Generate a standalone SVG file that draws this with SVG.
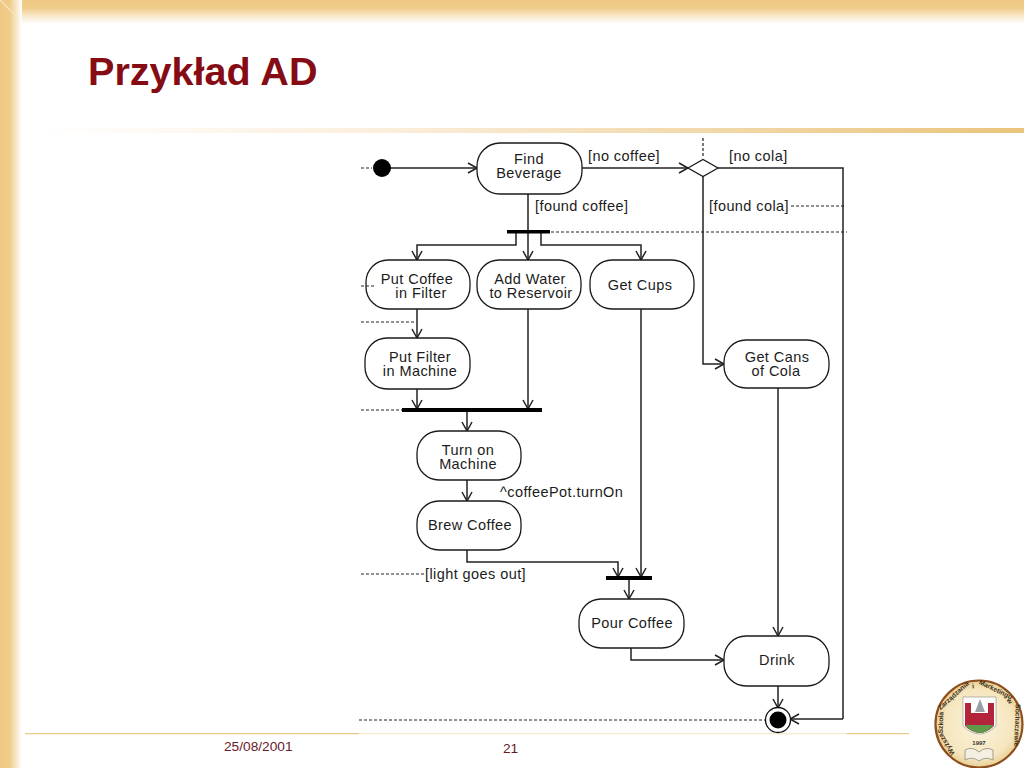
<svg xmlns="http://www.w3.org/2000/svg" width="1024" height="768" viewBox="0 0 1024 768">
<style>
.n{fill:#fff;stroke:#1a1a1a;stroke-width:1.3}
.t{font-family:"Liberation Sans",Arial,sans-serif;font-size:14.500px;letter-spacing:.42px;fill:#1c1c1c;text-anchor:middle}
.l{font-family:"Liberation Sans",Arial,sans-serif;font-size:14.500px;letter-spacing:.42px;fill:#1c1c1c}
.c{fill:none;stroke:#222;stroke-width:1.5}
.a{fill:none;stroke:#222;stroke-width:1.5;marker-end:url(#arr)}
.d{fill:none;stroke:#222;stroke-width:1.2;stroke-dasharray:3 2}
.b{fill:#000}
.s{font-family:"Liberation Sans",Arial,sans-serif;font-weight:bold;font-size:6.800px;fill:#3E3018;text-anchor:middle}
</style>
<defs>
<marker id="arr" markerUnits="userSpaceOnUse" markerWidth="14" markerHeight="14" refX="11" refY="7" orient="auto"><path d="M2 2L11 7L2 12" fill="none" stroke="#222" stroke-width="1.500"/></marker>
<linearGradient id="top" x1="0" y1="0" x2="0" y2="1"><stop offset="0" stop-color="#EFC883"/><stop offset=".33" stop-color="#F0CC8B"/><stop offset=".7" stop-color="#FAEBD0"/><stop offset="1" stop-color="#fff"/></linearGradient>
<linearGradient id="left" x1="0" y1="0" x2="1" y2="0"><stop offset="0" stop-color="#EFC883"/><stop offset=".45" stop-color="#F0CC8B"/><stop offset="1" stop-color="#fff"/></linearGradient>
<linearGradient id="rule" x1="0" y1="0" x2="1" y2="0"><stop offset="0" stop-color="#fff"/><stop offset=".35" stop-color="#FBEEDC"/><stop offset=".75" stop-color="#F0D4A0"/><stop offset="1" stop-color="#EAC47C"/></linearGradient>
<radialGradient id="seal"><stop offset="0" stop-color="#FBF3DC"/><stop offset=".8" stop-color="#F6E6BE"/><stop offset="1" stop-color="#E8CF96"/></radialGradient>
</defs>
<rect width="1024" height="768" fill="#fff"/>
<rect x="0" y="0" width="1024" height="24" fill="url(#top)"/>
<path d="M0 0H22V768H0Z" fill="url(#left)"/>
<path d="M0 0L14 14" stroke="#F7E2BC" stroke-width="1.500"/>
<rect x="40" y="128" width="984" height="5" fill="url(#rule)"/>
<rect x="25" y="733" width="884" height="1.300" fill="#E8C990"/>
<text x="88" y="85" font-family="Liberation Sans,Arial,sans-serif" font-weight="bold" font-size="39.600" fill="#850C14">Przykład AD</text>
<text x="224" y="751" font-family="Liberation Sans,Arial,sans-serif" font-size="13.700" fill="#6B1A2A">25/08/2001</text>
<text x="503" y="753" font-family="Liberation Sans,Arial,sans-serif" font-size="13.700" fill="#6B1A2A">21</text>

<rect x="359" y="133" width="488" height="600" fill="#fff"/>
<rect x="359" y="733" width="488" height="2" fill="#fff" opacity=".6"/>

<g id="connectors">
<path class="d" d="M361 168H372"/>
<path class="d" d="M703 138V158"/>
<path class="d" d="M791 206H846"/>
<path class="d" d="M551 232H847"/>
<path class="d" d="M361 322H416"/>
<path class="d" d="M361 410H402"/>
<path class="d" d="M361 574H425"/>
<path class="d" d="M359 720H766"/>
<path class="a" d="M382 168H477"/>
<path class="a" d="M582 168H688"/>
<path class="c" d="M718 168H843V719"/>
<path class="a" d="M843 719H790"/>
<path class="c" d="M528 194V231"/>
<path class="a" d="M516 232V245H417V260"/>
<path class="a" d="M528 232V260"/>
<path class="a" d="M541 232V245H641V260"/>
<path class="a" d="M417 309V338"/>
<path class="a" d="M417 389V409"/>
<path class="a" d="M528 309V409"/>
<path class="a" d="M467 410V431"/>
<path class="a" d="M467 480V501"/>
<path class="a" d="M467 550V562H618V577"/>
<path class="a" d="M641 309V577"/>
<path class="a" d="M629 578V599"/>
<path class="a" d="M631 648V660H724"/>
<path class="a" d="M703 176V364H724"/>
<path class="a" d="M778 388V636"/>
<path class="a" d="M778 686V708"/>
</g>

<g id="start"><circle class="b" cx="382" cy="168" r="9"/></g>
<g id="find-beverage"><rect class="n" x="477" y="143" width="105" height="51" rx="23"/><text class="t" x="529" y="164">Find</text><text class="t" x="529" y="178">Beverage</text></g>
<g id="decision"><path class="n" d="M688 168L703 159.500L718 168L703 176.500Z"/></g>
<g id="fork1"><rect class="b" x="507" y="230" width="43" height="3.500"/></g>
<g id="put-coffee"><rect class="n" x="366" y="260" width="104" height="49" rx="22"/><text class="t" x="417" y="284">Put Coffee</text><text class="t" x="421" y="298">in Filter</text><path class="d" d="M361 286H376"/></g>
<g id="add-water"><rect class="n" x="477" y="260" width="104" height="49" rx="22"/><text class="t" x="530" y="284">Add Water</text><text class="t" x="531" y="298">to Reservoir</text></g>
<g id="get-cups"><rect class="n" x="590" y="260" width="104" height="49" rx="22"/><text class="t" x="640" y="290">Get Cups</text></g>
<g id="put-filter"><rect class="n" x="365" y="338" width="105" height="51" rx="22"/><text class="t" x="420" y="362">Put Filter</text><text class="t" x="420" y="376">in Machine</text></g>
<g id="get-cans"><rect class="n" x="724" y="340" width="105" height="48" rx="22"/><text class="t" x="777" y="362">Get Cans</text><text class="t" x="776" y="376">of Cola</text></g>
<g id="join1"><rect class="b" x="402" y="408" width="140" height="4"/></g>
<g id="turn-on"><rect class="n" x="417" y="431" width="104" height="49" rx="22"/><text class="t" x="468" y="455">Turn on</text><text class="t" x="468" y="469">Machine</text></g>
<g id="brew"><rect class="n" x="417" y="501" width="104" height="49" rx="22"/><text class="t" x="470" y="530">Brew Coffee</text></g>
<g id="join2"><rect class="b" x="606" y="576" width="46" height="4"/></g>
<g id="pour"><rect class="n" x="579" y="599" width="105" height="49" rx="22"/><text class="t" x="632" y="628">Pour Coffee</text></g>
<g id="drink"><rect class="n" x="724" y="636" width="105" height="50" rx="22"/><text class="t" x="777" y="665">Drink</text></g>
<g id="end"><circle cx="778" cy="720" r="12.500" fill="#fff" stroke="#111" stroke-width="1.300"/><circle class="b" cx="778" cy="720" r="8.500"/></g>

<g id="labels">
<text class="l" x="588" y="161">[no coffee]</text>
<text class="l" x="729" y="161">[no cola]</text>
<text class="l" x="535" y="211">[found coffee]</text>
<text class="l" x="709" y="211">[found cola]</text>
<text class="l" x="500" y="497">^coffeePot.turnOn</text>
<text class="l" x="425" y="579">[light goes out]</text>
</g>

<g id="seal">
<circle cx="979" cy="724" r="43.500" fill="url(#seal)" stroke="#8E4E1C" stroke-width="2.200"/>
<text class="s" transform="rotate(-122 979 724)" x="979" y="688">Wyższa</text>
<text class="s" transform="rotate(-88 979 724)" x="979" y="688">Szkoła</text>
<text class="s" transform="rotate(-42 979 724)" x="979" y="688">Zarządzania</text>
<text class="s" transform="rotate(-9 979 724)" x="979" y="688">i</text>
<text class="s" transform="rotate(26 979 724)" x="979" y="688">Marketingu</text>
<text class="s" transform="rotate(53 979 724)" x="979" y="688">w</text>
<text class="s" transform="rotate(92 979 724)" x="979" y="688">Sochaczewie</text>
<path d="M963 697H996V726Q980 742 963 726Z" fill="#fff" stroke="#8a8a7a" stroke-width=".6"/>
<path d="M965 703H971V713H988V703H994V726Q980 740 965 726Z" fill="#B3243A"/>
<path d="M965 725H994Q980 741 965 725Z" fill="#5E9A4A"/>
<path d="M975 712L980 699L985 712Z" fill="#9aa0a6"/>
<text x="979" y="745" font-family="Liberation Sans,Arial,sans-serif" font-size="6" font-weight="bold" text-anchor="middle" fill="#333">1997</text>
<path d="M965 760V750Q972 746 979 752Q986 746 993 750V760Q986 756 979 761Q972 756 965 760Z" fill="#F4EFE0" stroke="#8d8d80" stroke-width=".8"/>
</g>
</svg>
